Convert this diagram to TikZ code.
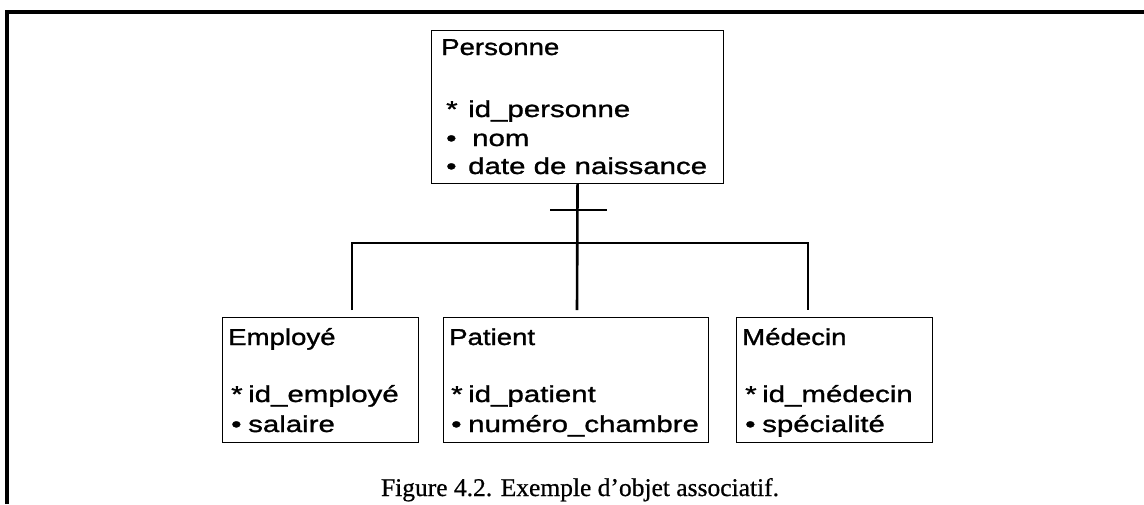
\documentclass[tikz,border=0pt]{standalone}
\usepackage{fontspec}
\setmainfont{Liberation Serif}[FakeBold=0.6]
\newfontfamily\hdfont[FakeStretch=1.2,FakeBold=1.2]{Liberation Sans}
\newfontfamily\itfont[FakeStretch=1.28,FakeBold=1.2]{Liberation Sans}
% key and attribute markers in front of each attribute name
\newcommand\keymark[1][17pt]{\makebox[#1][l]{*}}
\newcommand\attmark[1][17pt]{\makebox[#1][l]{•}}

\begin{document}
\begin{tikzpicture}[x=1pt,y=-1pt,
  entity/.style={draw, line width=1.1pt, inner sep=0pt, anchor=north west},
  head/.style={anchor=base west, inner sep=0pt, font=\hdfont\fontsize{23}{26}\selectfont},
  attr/.style={anchor=base west, inner sep=0pt, font=\itfont\fontsize{23}{26}\selectfont},
  link/.style={line width=2.6pt},
  capt/.style={anchor=base, inner sep=0pt, font=\fontsize{25.5}{30}\selectfont}]

\useasboundingbox (0,0) rectangle (1144,504);
\fill[white] (0,0) rectangle (1144,504);

% page frame (left and top rules)
\draw[line width=3.5pt] (7,504) -- (7,12) -- (1144,12);

% entity boxes
\node[entity, minimum width=292pt, minimum height=153pt] (pers) at (431,30) {};
\node[entity, minimum width=196pt, minimum height=125pt] (empl) at (222,317) {};
\node[entity, minimum width=265pt, minimum height=125pt] (pat)  at (443,317) {};
\node[entity, minimum width=196pt, minimum height=125pt] (med)  at (736,317) {};

% Personne
\node[head] (pers-n)  at (441,55)  {Personne};
\node[attr] (pers-a1) at (446,117) {\keymark[22pt]id\_personne};
\node[attr] (pers-a2) at (446,146) {\attmark[26pt]nom};
\node[attr] (pers-a3) at (446,174) {\attmark[22pt]date de naissance};

% Employé
\node[head] (empl-n)  at (228,345) {Employé};
\node[attr] (empl-a1) at (231,402) {\keymark id\_employé};
\node[attr] (empl-a2) at (231,432) {\attmark salaire};

% Patient
\node[head] (pat-n)   at (449,345) {Patient};
\node[attr] (pat-a1)  at (451,402) {\keymark id\_patient};
\node[attr] (pat-a2)  at (451,432) {\attmark numéro\_chambre};

% Médecin
\node[head] (med-n)   at (742,345) {Médecin};
\node[attr] (med-a1)  at (745,402) {\keymark id\_médecin};
\node[attr] (med-a2)  at (745,432) {\attmark spécialité};

% generalisation tree
\coordinate (hub-l)  at (352,243);
\coordinate (hub-r)  at (808,243);
\coordinate (empl-in) at (352,310);
\coordinate (pat-in)  at (577,310);
\coordinate (med-in)  at (808,310);
\coordinate (tick-l)  at (550,210);
\coordinate (tick-r)  at (607,210);

\draw[link] (pers.south) -- (pat-in);
\draw[link] (empl-in) -- (hub-l) -- (hub-r) -- (med-in);
\draw[link] (tick-l) -- (tick-r);

% caption
\node[capt] (cap) at (580,496) {Figure 4.2. Exemple d’objet associatif.};
\end{tikzpicture}
\end{document}
